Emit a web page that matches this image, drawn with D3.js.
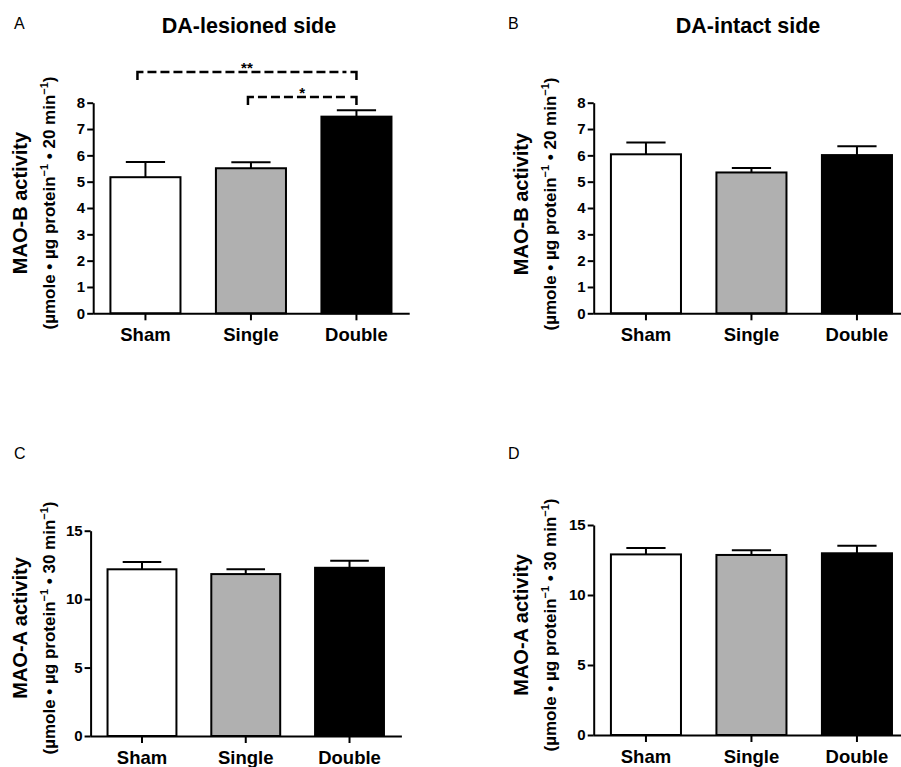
<!DOCTYPE html>
<html>
<head>
<meta charset="utf-8">
<script src="https://cdn.jsdelivr.net/npm/d3@7"></script>
<style>
  body { margin: 0; background: #fff; }
  svg { display: block; font-family: "Liberation Sans", Arial, sans-serif; }
  .axis path, .axis line { stroke: #000; stroke-width: 2; }
  .axis text { fill: #000; font-weight: bold; }
</style>
</head>
<body>
<script>
// groups and values (mean, upper SEM)
var groups = ["Sham", "Single", "Double"];

var maoB_lesioned = [5.17, 5.51, 7.47];
var maoB_lesioned_err = [0.58, 0.23, 0.24];
var maoB_intact = [6.04, 5.35, 6.01];
var maoB_intact_err = [0.45, 0.17, 0.34];

var maoA_lesioned = [12.18, 11.83, 12.29];
var maoA_lesioned_err = [0.53, 0.35, 0.52];
var maoA_intact = [12.90, 12.86, 12.98];
var maoA_intact_err = [0.46, 0.33, 0.54];

var ticksB = [0, 1, 2, 3, 4, 5, 6, 7, 8];
var ticksA = [0, 5, 10, 15];

// significance comparisons on panel A
var comparisons = [
  { from: "Sham", to: "Double", label: "**" },
  { from: "Single", to: "Double", label: "*" }
];

var fills = ["#ffffff", "#b0b0b0", "#000000"];

var w = 901, h = 767;
var svg = d3.select("body").append("svg").attr("width", w).attr("height", h);

var panels = [
  { letter: "A", title: "DA-lesioned side", values: maoB_lesioned, errs: maoB_lesioned_err,
    ticks: ticksB, max: 8, x0: 92.7, x1: 409.2, yBot: 313.3, yTop: 102.7,
    lx: 14, ly: 29, tx: 249, main: "MAO-B activity", mins: "20", labX: 27, subX: 55, labY: 203, xlabY: 341,
    brackets: [72, 97] },
  { letter: "B", title: "DA-intact side", values: maoB_intact, errs: maoB_intact_err,
    ticks: ticksB, max: 8, x0: 593.2, x1: 909.7, yBot: 313.3, yTop: 102.7,
    lx: 508, ly: 29, tx: 748, main: "MAO-B activity", mins: "20", labX: 528, subX: 556, labY: 204, xlabY: 341 },
  { letter: "C", values: maoA_lesioned, errs: maoA_lesioned_err,
    ticks: ticksA, max: 15, x0: 90.1, x1: 401.4, yBot: 736, yTop: 530.7,
    lx: 14, ly: 459, main: "MAO-A activity", mins: "30", labX: 27, subX: 55, labY: 628, xlabY: 764 },
  { letter: "D", values: maoA_intact, errs: maoA_intact_err,
    ticks: ticksA, max: 15, x0: 593.2, x1: 909.7, yBot: 735, yTop: 525,
    lx: 508, ly: 459, main: "MAO-A activity", mins: "30", labX: 528, subX: 556, labY: 625, xlabY: 763 }
];

panels.forEach(drawPanel);

function drawPanel(p) {
  var g = svg.append("g");

  var x = d3.scaleBand()
    .domain(groups)
    .range([p.x0, p.x1])
    .paddingInner(0.336)
    .paddingOuter(0.168);

  var y = d3.scaleLinear()
    .domain([0, p.max])
    .range([p.yBot, p.yTop]);

  var capW = x.bandwidth() * 0.56;

  // error bars (upper only), drawn first so bar tops cover the stems
  var eb = g.selectAll(".err")
    .data(groups)
    .enter().append("g")
    .attr("class", "err")
    .attr("stroke", "#000")
    .attr("stroke-width", 2);

  eb.append("line")
    .attr("x1", function(d) { return x(d) + x.bandwidth() / 2; })
    .attr("x2", function(d) { return x(d) + x.bandwidth() / 2; })
    .attr("y1", function(d, i) { return y(p.values[i]); })
    .attr("y2", function(d, i) { return y(p.values[i] + p.errs[i]); });

  eb.append("line")
    .attr("x1", function(d) { return x(d) + x.bandwidth() / 2 - capW / 2; })
    .attr("x2", function(d) { return x(d) + x.bandwidth() / 2 + capW / 2; })
    .attr("y1", function(d, i) { return y(p.values[i] + p.errs[i]); })
    .attr("y2", function(d, i) { return y(p.values[i] + p.errs[i]); });

  g.selectAll(".bar")
    .data(groups)
    .enter().append("rect")
    .attr("class", "bar")
    .attr("x", function(d) { return x(d); })
    .attr("width", x.bandwidth())
    .attr("y", function(d, i) { return y(p.values[i]); })
    .attr("height", function(d, i) { return y(0) - y(p.values[i]); })
    .attr("fill", function(d, i) { return fills[i]; })
    .attr("stroke", "#000")
    .attr("stroke-width", 2);

  // y axis
  g.append("g")
    .attr("class", "axis")
    .attr("transform", "translate(" + (p.x0 + 0.5) + ",0)")
    .call(d3.axisLeft(y).tickValues(p.ticks).tickSize(6).tickSizeOuter(0).tickPadding(2))
    .selectAll("text")
    .style("font-size", "15px");

  // x axis
  var xa = g.append("g")
    .attr("class", "axis")
    .attr("transform", "translate(0," + p.yBot + ")")
    .call(d3.axisBottom(x).tickSize(7).tickSizeOuter(0).tickPadding(1));
  xa.selectAll("text")
    .attr("dy", null)
    .attr("y", p.xlabY - p.yBot)
    .style("font-size", "18.5px");

  // panel letter
  svg.append("text")
    .attr("x", p.lx)
    .attr("y", p.ly)
    .style("font-size", "16px")
    .text(p.letter);

  if (p.title) {
    svg.append("text")
      .attr("x", p.tx)
      .attr("y", 33)
      .attr("text-anchor", "middle")
      .style("font-size", "21.5px")
      .style("font-weight", "bold")
      .text(p.title);
  }

  // y labels
  svg.append("text")
    .attr("transform", "translate(" + p.labX + "," + p.labY + ") rotate(-90)")
    .attr("text-anchor", "middle")
    .style("font-size", "20px")
    .style("font-weight", "bold")
    .text(p.main);

  var sub = svg.append("text")
    .attr("transform", "translate(" + p.subX + "," + p.labY + ") rotate(-90)")
    .attr("text-anchor", "middle")
    .style("font-size", "17px")
    .style("font-weight", "bold");
  sub.append("tspan").text("(\u00b5mole \u2022 \u00b5g protein");
  sub.append("tspan").attr("dy", -7).style("font-size", "11px").text("\u22121");
  sub.append("tspan").attr("dy", 7).text(" \u2022 " + p.mins + " min");
  sub.append("tspan").attr("dy", -7).style("font-size", "11px").text("\u22121");
  sub.append("tspan").attr("dy", 7).text(")");

  // significance brackets: solid corners, dashed span
  if (p.brackets) {
    comparisons.forEach(function(c, i) {
      var xa1 = x(c.from) + x.bandwidth() / 2 - (i === 0 ? 8 : 3);
      var xa2 = x(c.to) + x.bandwidth() / 2;
      var by = p.brackets[i];
      var bk = g.append("g")
        .attr("fill", "none")
        .attr("stroke", "#000")
        .attr("stroke-width", 2.5);
      bk.append("path")
        .attr("d", "M" + xa1 + "," + (by + 8) + "V" + by + "h6");
      bk.append("path")
        .attr("d", "M" + xa2 + "," + (by + 8) + "V" + by + "h-6");
      bk.append("line")
        .attr("x1", xa1 + 10)
        .attr("x2", xa2 - 10)
        .attr("y1", by)
        .attr("y2", by)
        .attr("stroke-dasharray", "9,4");
      g.append("text")
        .attr("x", (xa1 + xa2) / 2)
        .attr("y", by + 1)
        .attr("text-anchor", "middle")
        .style("font-size", "15px")
        .style("font-weight", "bold")
        .text(c.label);
    });
  }
}
</script>
</body>
</html>
